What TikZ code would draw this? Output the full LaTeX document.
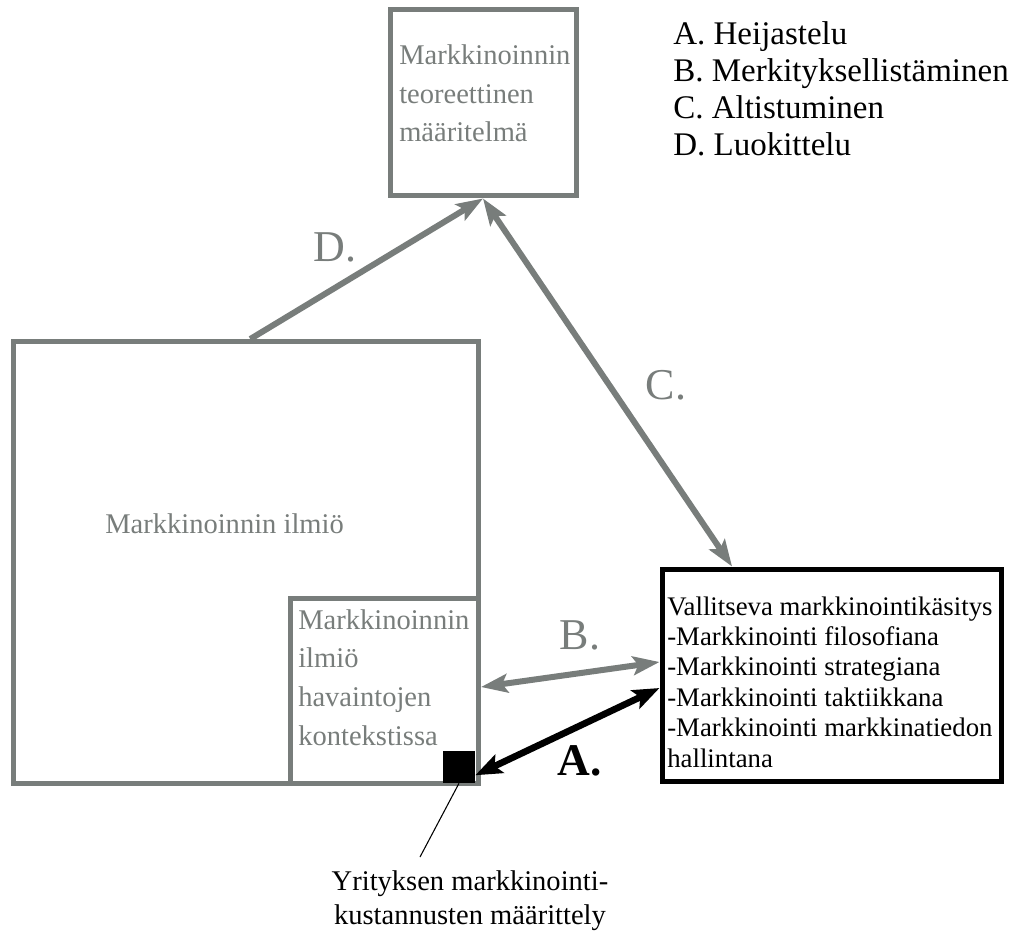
\documentclass[tikz,border=0pt]{standalone}
\usepackage{fontspec}
\setmainfont{Liberation Serif}
\usetikzlibrary{arrows.meta,calc}
\definecolor{mygray}{RGB}{120,125,123}
\begin{document}
\begin{tikzpicture}[x=0.75pt,y=-0.75pt,
  gbox/.style={draw=mygray, line width=3.75pt, inner sep=0pt},
  bbox/.style={draw=black, line width=3.75pt, inner sep=0pt},
  gtext/.style={text=mygray, font=\fontsize{21.4}{28.9}\selectfont, align=left, inner sep=0pt, anchor=base west},
  btext/.style={text=black, font=\fontsize{20.1}{22.8}\selectfont, align=left, inner sep=0pt, anchor=base west},
  legendtext/.style={text=black, font=\fontsize{24.75}{27.75}\selectfont, align=left, inner sep=0pt, anchor=base west},
  captext/.style={text=black, font=\fontsize{21.4}{25.5}\selectfont, align=center, inner sep=0pt, anchor=base},
  glabel/.style={text=mygray, font=\fontsize{33}{36}\selectfont, inner sep=0pt, anchor=base},
  blabel/.style={text=black, font=\fontsize{34}{36}\selectfont\bfseries, inner sep=0pt, anchor=base},
  garrow/.style={draw=mygray, line width=4.5pt, -{Stealth[length=20pt,width=14pt,inset=4pt]}},
  gdouble/.style={draw=mygray, line width=4.5pt, {Stealth[length=20pt,width=14pt,inset=4pt]}-{Stealth[length=20pt,width=14pt,inset=4pt]}},
  bdouble/.style={draw=black, line width=5pt, {Stealth[length=20pt,width=15pt,inset=4pt]}-{Stealth[length=20pt,width=15pt,inset=4pt]}}
]
\useasboundingbox (0,0) rectangle (1016,934);

% boxes
\node[gbox, minimum width=139.5pt, minimum height=139.5pt] (top) at (483,103) {};
\node[gbox, minimum width=349.125pt, minimum height=331.125pt] (big) at (245.75,562.25) {};
\node[gbox, minimum width=141pt, minimum height=138.375pt] (inner) at (384.5,690.75) {};
\node[bbox, minimum width=254.25pt, minimum height=159pt] (right) at (831.5,675) {};
\node[fill=black, minimum size=24pt, inner sep=0pt] (sq) at (459,767) {};

% texts (base anchor = baseline of last line)
\node[gtext] (toptext) at (399,142) {Markkinoinnin\\teoreettinen\\määritelmä};
\node[gtext] (bigtext) at (105,533) {Markkinoinnin ilmiö};
\node[gtext] (innertext) at (298,745) {Markkinoinnin\\ilmiö\\havaintojen\\kontekstissa};
\node[btext] (righttext) at (667,767) {Vallitseva markkinointikäsitys\\-Markkinointi filosofiana\\-Markkinointi strategiana\\-Markkinointi taktiikkana\\-Markkinointi markkinatiedon\\hallintana};
\node[legendtext] (legend) at (673,156) {A. Heijastelu\\B. Merkityksellistäminen\\C. Altistuminen\\D. Luokittelu};
\node[captext] (cap) at (470,924) {Yrityksen markkinointi-\\kustannusten määrittely};

% arrows
\draw[garrow] ([xshift=3.4pt]big.north) -- (top.south);
\draw[gdouble] (top.south) -- ([xshift=-74.6pt]right.north);
\draw[gdouble] ([yshift=2.8pt]inner.east) -- ([yshift=9.75pt]right.west);
\draw[bdouble] ([yshift=6pt]sq.south east) -- ([yshift=-9.75pt]right.west);
\coordinate (capend) at (420,857);
\draw[line width=0.8pt] (sq.south) -- (capend);

% labels
\node[glabel] (lD) at (335,262) {D.};
\node[glabel] (lC) at (666,399) {C.};
\node[glabel] (lB) at (580,649) {B.};
\node[blabel] (lA) at (580,775) {A.};
\end{tikzpicture}
\end{document}
